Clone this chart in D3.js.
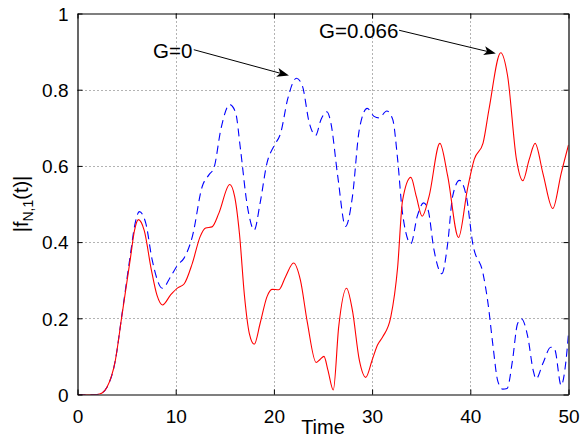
<!DOCTYPE html>
<html>
<head>
<meta charset="utf-8">
<script src="https://cdn.jsdelivr.net/npm/d3@7"></script>
<style>
  html, body { margin: 0; padding: 0; background: #fff; }
  svg { display: block; }
  text { font-family: "Liberation Sans", Arial, Helvetica, sans-serif; fill: #000; }
</style>
</head>
<body>
<svg id="chart" width="582" height="439"></svg>
<script>
// ---- data ----
const xTicks = [0, 10, 20, 30, 40, 50];
const yTicks = [0, 0.2, 0.4, 0.6, 0.8, 1];
const yTickLabels = ["0", "0.2", "0.4", "0.6", "0.8", "1"];

// G = 0.066 (red, solid)
const redT = [0, 2.0, 2.5, 3.0, 3.85, 4.5, 5.4, 5.8, 6.2, 6.8, 7.5, 8.1, 8.65, 9.5, 10.2, 10.85, 11.7, 12.5, 13.05, 13.7, 14.4, 15.5,
  16.0, 16.5, 17.0, 17.5, 18.0, 18.6, 19.3, 19.8, 20.5, 21.2, 22.0, 22.7, 23.4, 24.3, 24.7, 25.1, 25.5, 26.05, 26.6, 27.4, 28.0, 28.7,
  29.35, 30.0, 30.55, 31.1, 31.9, 32.6, 33.1, 33.95, 34.5, 35.1, 35.8, 36.9, 37.7, 38.8, 39.7, 40.4, 41.3, 41.9, 43.1, 43.8, 44.7,
  45.35, 46.0, 46.6, 47.4, 48.4, 49.25, 50];
const redV = [0, 0, 0.004, 0.019, 0.089, 0.203, 0.36, 0.43, 0.459, 0.43, 0.33, 0.26, 0.235, 0.262, 0.28, 0.29, 0.345, 0.415, 0.437, 0.44, 0.476, 0.551,
  0.52, 0.42, 0.26, 0.16, 0.132, 0.187, 0.257, 0.276, 0.275, 0.31, 0.345, 0.30, 0.19, 0.084, 0.092, 0.1, 0.064, 0.012, 0.178, 0.279, 0.22, 0.09,
  0.045, 0.09, 0.13, 0.152, 0.203, 0.334, 0.509, 0.57, 0.52, 0.468, 0.52, 0.659, 0.573, 0.412, 0.538, 0.617, 0.66, 0.748, 0.897, 0.836, 0.617,
  0.561, 0.617, 0.659, 0.58, 0.488, 0.58, 0.655];

// G = 0 (blue, dashed)
const blueT = [0, 2.0, 2.5, 3.0, 3.85, 4.5, 5.4, 5.8, 6.3, 6.95, 7.6, 8.65, 9.5, 10.2, 10.85, 11.7, 12.7, 13.4, 13.9, 14.6, 15.5, 16.1,
  16.6, 17.3, 18.0, 18.6, 19.3, 20.0, 20.7, 21.4, 22.3, 22.9, 23.6, 24.25, 24.8, 25.4, 25.8, 26.5, 27.3, 28.0, 28.7, 29.5, 30.2, 30.7,
  31.5, 32.1, 32.6, 33.1, 33.95, 34.6, 35.25, 35.7, 36.3, 37.1, 37.7, 38.2, 38.9, 39.6, 40.25, 41.3, 41.8, 42.3, 42.8, 43.3, 43.75,
  44.3, 44.8, 45.2, 45.85, 46.4, 46.7, 47.4, 48.2, 48.6, 49.25, 49.75, 50];
const blueV = [0, 0, 0.004, 0.019, 0.089, 0.205, 0.37, 0.44, 0.48, 0.45, 0.354, 0.279, 0.31, 0.34, 0.358, 0.415, 0.546, 0.577, 0.595, 0.696, 0.761, 0.74,
  0.643, 0.494, 0.432, 0.503, 0.608, 0.652, 0.687, 0.775, 0.83, 0.81, 0.713, 0.68, 0.722, 0.742, 0.713, 0.573, 0.441, 0.52, 0.696, 0.751, 0.73, 0.726,
  0.744, 0.722, 0.617, 0.475, 0.396, 0.468, 0.503, 0.485, 0.38, 0.317, 0.397, 0.52, 0.562, 0.52, 0.396, 0.317, 0.24, 0.13, 0.035, 0.014, 0.016,
  0.09, 0.185, 0.199, 0.152, 0.064, 0.041, 0.082, 0.124, 0.118, 0.024, 0.09, 0.16];

// annotations: label, text anchor point (t, v), arrow start, arrow tip
const annLabels = ["G=0", "G=0.066"];
const annTextPos = [[7.7, 0.884], [24.6, 0.935]];
const annFrom = [[11.84, 0.905], [32.75, 0.956]];
const annTo = [[21.53, 0.837], [42.6, 0.895]];

// ---- drawing ----
const svg = d3.select("#chart");
const W = 582, H = 439;
const m = { left: 77.5, right: 568.5, top: 13.5, bottom: 394.5 };

svg.append("rect").attr("width", W).attr("height", H).attr("fill", "#fff");

const x = d3.scaleLinear().domain([0, 50]).range([m.left, m.right]);
const y = d3.scaleLinear().domain([0, 1]).range([m.bottom, m.top]);

// grid
const grid = svg.append("g").attr("stroke", "#666").attr("stroke-width", 1).attr("stroke-dasharray", "1,3");
grid.selectAll("line.gx").data(xTicks.slice(1, -1)).join("line")
  .attr("x1", d => Math.round(x(d)) + 0.5).attr("x2", d => Math.round(x(d)) + 0.5)
  .attr("y1", m.top).attr("y2", m.bottom);
grid.selectAll("line.gy").data(yTicks.slice(1, -1)).join("line")
  .attr("y1", d => Math.round(y(d)) + 0.5).attr("y2", d => Math.round(y(d)) + 0.5)
  .attr("x1", m.left).attr("x2", m.right);

// lines
const clip = svg.append("clipPath").attr("id", "clip").append("rect")
  .attr("x", m.left).attr("y", m.top).attr("width", m.right - m.left).attr("height", m.bottom - m.top);

const lineGen = d3.line().x(d => x(d[0])).y(d => y(d[1])).curve(d3.curveMonotoneX);
const blueData = blueT.map((t, i) => [t, blueV[i]]);
const redData = redT.map((t, i) => [t, redV[i]]);

const plot = svg.append("g").attr("clip-path", "url(#clip)");
plot.append("path").datum(blueData).attr("d", lineGen)
  .attr("fill", "none").attr("stroke", "#0000ff").attr("stroke-width", 1.1).attr("stroke-dasharray", "8,5");
plot.append("path").datum(redData).attr("d", lineGen)
  .attr("fill", "none").attr("stroke", "#ff0000").attr("stroke-width", 1.1);

// axes (ticks inward, on all four sides)
const fmtY = (d, i) => yTickLabels[yTicks.indexOf(d)];
const axB = svg.append("g").attr("transform", `translate(0,${m.bottom})`)
  .call(d3.axisBottom(x).tickValues(xTicks).tickSizeInner(-5).tickSizeOuter(0).tickPadding(10));
const axL = svg.append("g").attr("transform", `translate(${m.left},0)`)
  .call(d3.axisLeft(y).tickValues(yTicks).tickFormat(fmtY).tickSizeInner(-5).tickSizeOuter(0).tickPadding(9));
const axT = svg.append("g").attr("transform", `translate(0,${m.top})`)
  .call(d3.axisTop(x).tickValues(xTicks).tickSizeInner(-5).tickSizeOuter(0).tickFormat(""));
const axR = svg.append("g").attr("transform", `translate(${m.right},0)`)
  .call(d3.axisRight(y).tickValues(yTicks).tickSizeInner(-5).tickSizeOuter(0).tickFormat(""));

[axB, axL, axT, axR].forEach(a => {
  a.select(".domain").attr("stroke", "#000").attr("stroke-width", 1.2);
  a.selectAll(".tick line").attr("stroke", "#000");
  a.selectAll("text").attr("font-family", "Liberation Sans, Arial, sans-serif").attr("font-size", 19).attr("fill", "#000");
});
axB.selectAll(".tick text").attr("dy", "0.95em");
axL.selectAll(".tick text").attr("dy", "0.36em");

// axis labels
svg.append("text").attr("x", (m.left + m.right) / 2).attr("y", 434)
  .attr("text-anchor", "middle").attr("font-size", 20).text("Time");

const yl = svg.append("text").attr("transform", `translate(28,${(m.top + m.bottom) / 2}) rotate(-90)`)
  .attr("text-anchor", "middle").attr("font-size", 20);
yl.append("tspan").text("|f");
yl.append("tspan").attr("font-size", 14).attr("dy", 5).text("N,1");
yl.append("tspan").attr("dy", -5).text("(t)|");

// annotations
const ann = svg.append("g");
annLabels.forEach((lab, i) => {
  ann.append("text").attr("x", x(annTextPos[i][0])).attr("y", y(annTextPos[i][1]))
    .attr("font-size", 20.5).text(lab);
  const x0 = x(annFrom[i][0]), y0 = y(annFrom[i][1]);
  const x1 = x(annTo[i][0]), y1 = y(annTo[i][1]);
  const ang = Math.atan2(y1 - y0, x1 - x0);
  const L = 12, Wd = 4.5, back = 9;
  const ux = Math.cos(ang), uy = Math.sin(ang), px = -uy, py = ux;
  ann.append("line").attr("x1", x0).attr("y1", y0).attr("x2", x1 - ux * back).attr("y2", y1 - uy * back)
    .attr("stroke", "#000").attr("stroke-width", 1);
  const pts = [
    [x1, y1],
    [x1 - ux * L + px * Wd, y1 - uy * L + py * Wd],
    [x1 - ux * back, y1 - uy * back],
    [x1 - ux * L - px * Wd, y1 - uy * L - py * Wd]
  ];
  ann.append("path").attr("d", "M" + pts.map(p => p.join(",")).join("L") + "Z").attr("fill", "#000");
});
</script>
</body>
</html>
